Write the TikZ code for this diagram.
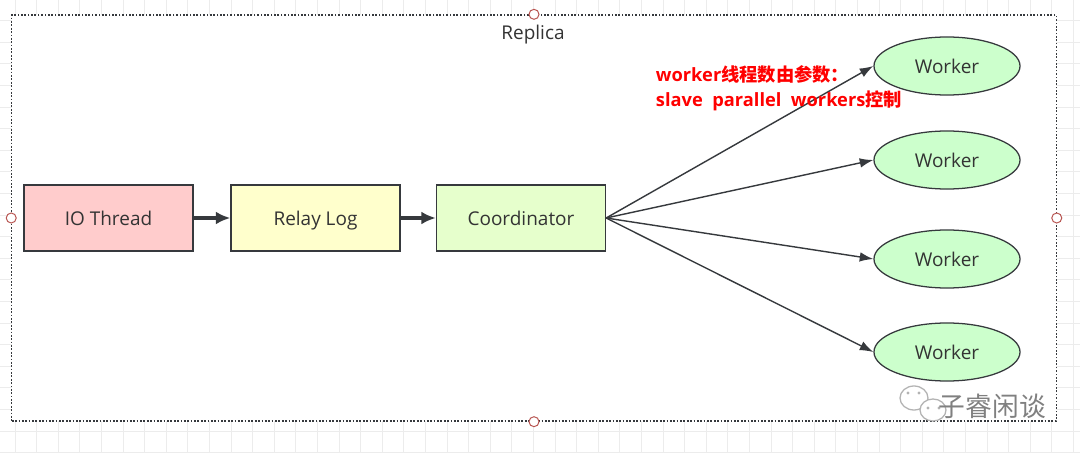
\documentclass[tikz,border=0pt]{standalone}
\usepackage{fontspec}
\setmainfont{Open Sans}
\newfontfamily\cjk{Noto Sans CJK SC}
\usetikzlibrary{arrows.meta,shapes.geometric}
\definecolor{replicaInk}{RGB}{51,51,51}
\definecolor{replicaLine}{RGB}{54,57,61}
\definecolor{ioRed}{RGB}{255,204,204}
\definecolor{relayYellow}{RGB}{255,255,204}
\definecolor{coordGreen}{RGB}{230,255,204}
\definecolor{workerGreen}{RGB}{204,255,204}
\definecolor{noteRed}{RGB}{255,0,0}
\definecolor{gridGray}{RGB}{236,236,236}
\definecolor{handleRed}{RGB}{184,84,80}
\definecolor{markGray}{RGB}{128,128,128}
\tikzset{
  stage/.style={draw=replicaLine, line width=0.9pt, minimum width=4.225cm, minimum height=1.65cm,
    inner sep=0pt, text height=11.5pt, text depth=0.5pt, font=\fontsize{13.5}{15}\selectfont, text=replicaInk},
  worker/.style={ellipse, draw=replicaLine, line width=0.9pt, fill=workerGreen, minimum width=3.65cm,
    minimum height=1.45cm, inner sep=0pt, font=\fontsize{13.5}{15}\selectfont, text=replicaInk},
  container/.style={draw=replicaLine, line width=0.9pt, dash pattern=on 1.2pt off 1.2pt, fill=white,
    minimum width=26.1cm, minimum height=10.15cm, inner sep=0pt},
  pipe/.style={-{Latex[length=3.6mm,width=3.2mm]}, line width=2.2pt, draw=replicaLine},
  fan/.style={-{Latex[length=3.4mm,width=2.4mm]}, line width=1pt, draw=replicaLine},
  handle/.style={circle, draw=handleRed, fill=white, line width=0.7pt, minimum size=0.25cm, inner sep=0pt},
  gridline/.style={draw=gridGray, line width=0.7pt}
}
\begin{document}
\begin{tikzpicture}[x=0.025cm,y=-0.025cm]
    \useasboundingbox[fill=white] (0,0) rectangle (1080,453);
    % background grid
    \foreach \i in {0,...,50}
      \draw[gridline] ({-6.6+21.6*\i},0) -- ({-6.6+21.6*\i},453);
    \foreach \j in {0,...,21}
      \draw[gridline] (0,{-0.9+21.6*\j}) -- (1080,{-0.9+21.6*\j});
    \node[container] (replica) at (534,218) {};
    \node[font=\fontsize{13.5}{15}\selectfont, text=replicaInk] (title) at (533,35) {Replica};
    \node[stage, fill=ioRed] (io) at (108.5,218) {IO Thread};
    \node[stage, fill=relayYellow] (relay) at (315.5,218) {Relay Log};
    \node[stage, fill=coordGreen] (coord) at (521,218) {Coordinator};
    \draw[pipe] (io.east) -- (relay.west);
    \draw[pipe] (relay.east) -- (coord.west);
    \node[worker] (w1) at (947,66) {Worker};
    \node[worker] (w2) at (947,160) {Worker};
    \node[worker] (w3) at (947,259) {Worker};
    \node[worker] (w4) at (947,352) {Worker};
    \foreach \w in {w1,w2,w3,w4}
      \draw[fan] (coord.east) -- (\w.west);
    \node[anchor=west, align=left, text=noteRed, font=\fontsize{13}{17.5}\selectfont\bfseries] (note) at (651,88)
      {worker{\cjk\bfseries 线程数由参数：}\\slave\ \ parallel\ \ workers{\cjk\bfseries 控制}};
    % selection handles
    \foreach \a in {north,south,west,east}
      \node[handle] at (replica.\a) {};
    % watermark
    \draw[markGray!60, line width=0.9pt, fill=white] (914,398) ellipse [x radius=14, y radius=12];
    \draw[markGray!60, line width=0.9pt, fill=white] (933,410) ellipse [x radius=13, y radius=11];
    \foreach \ex/\ey in {908/393,919/393,928/408,939/408}
      \fill[markGray!60] (\ex,\ey) circle [radius=1.7];
    \node[anchor=west, text=markGray, font=\cjk\fontsize{19}{21}\selectfont] (mark) at (934,406) {子睿闲谈};
\end{tikzpicture}
\end{document}
